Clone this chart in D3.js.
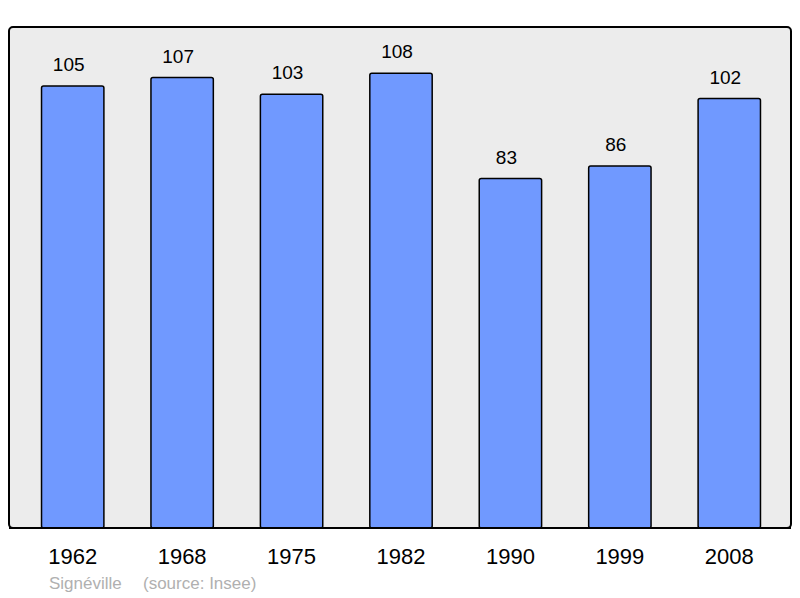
<!DOCTYPE html>
<html>
<head>
<meta charset="utf-8">
<script src="https://cdn.jsdelivr.net/npm/d3@7"></script>
<style>
  body { margin: 0; background: #fff; }
  text { font-family: "Liberation Sans", Arial, sans-serif; }
</style>
</head>
<body>
<svg id="chart" width="800" height="598"></svg>
<script>
// population by census year
const years = ["1962", "1968", "1975", "1982", "1990", "1999", "2008"];
const population = [105, 107, 103, 108, 83, 86, 102];
const townName = "Signéville";
const sourceNote = "(source: Insee)";

const svg = d3.select("#chart");

const panel = { left: 9, top: 27, right: 791, bottom: 528 };

// background panel
svg.append("rect")
    .attr("x", panel.left)
    .attr("y", panel.top)
    .attr("width", panel.right - panel.left)
    .attr("height", panel.bottom - panel.top)
    .attr("rx", 4)
    .attr("fill", "#ececec")
    .attr("stroke", "#000")
    .attr("stroke-width", 2);

const x = d3.scaleBand()
    .domain(years)
    .range([18, 784])
    .paddingInner(0.43)
    .paddingOuter(0.215);

const y = d3.scaleLinear()
    .domain([0, 119])
    .range([panel.bottom, panel.top]);

const data = years.map((yr, i) => ({ year: yr, value: population[i] }));

svg.append("g").selectAll("rect")
    .data(data)
    .join("rect")
    .attr("x", d => x(d.year))
    .attr("y", d => y(d.value))
    .attr("width", x.bandwidth())
    .attr("height", d => y(0) - y(d.value))
    .attr("rx", 2)
    .attr("fill", "#7099ff")
    .attr("stroke", "#000")
    .attr("stroke-width", 1.5);

// value labels (sit a little left of bar centre, as in the original)
svg.append("g").selectAll("text")
    .data(data)
    .join("text")
    .attr("x", d => x(d.year) + x.bandwidth() / 2 - 4)
    .attr("y", d => y(d.value) - 15)
    .attr("text-anchor", "middle")
    .style("font-size", "19px")
    .attr("fill", "#000")
    .text(d => d.value);

// year axis labels
svg.append("g").selectAll("text")
    .data(years)
    .join("text")
    .attr("x", d => x(d) + x.bandwidth() / 2)
    .attr("y", 564)
    .attr("text-anchor", "middle")
    .style("font-size", "22px")
    .attr("fill", "#000")
    .text(d => d);

// re-draw bottom border line over bars
svg.append("line")
    .attr("x1", panel.left)
    .attr("x2", panel.right)
    .attr("y1", panel.bottom)
    .attr("y2", panel.bottom)
    .attr("stroke", "#000")
    .attr("stroke-width", 2);

svg.append("text")
    .attr("x", 49)
    .attr("y", 589)
    .style("font-size", "17px")
    .attr("fill", "#b0b0b0")
    .text(townName);

svg.append("text")
    .attr("x", 143)
    .attr("y", 589)
    .style("font-size", "17px")
    .attr("fill", "#b0b0b0")
    .text(sourceNote);
</script>
</body>
</html>
